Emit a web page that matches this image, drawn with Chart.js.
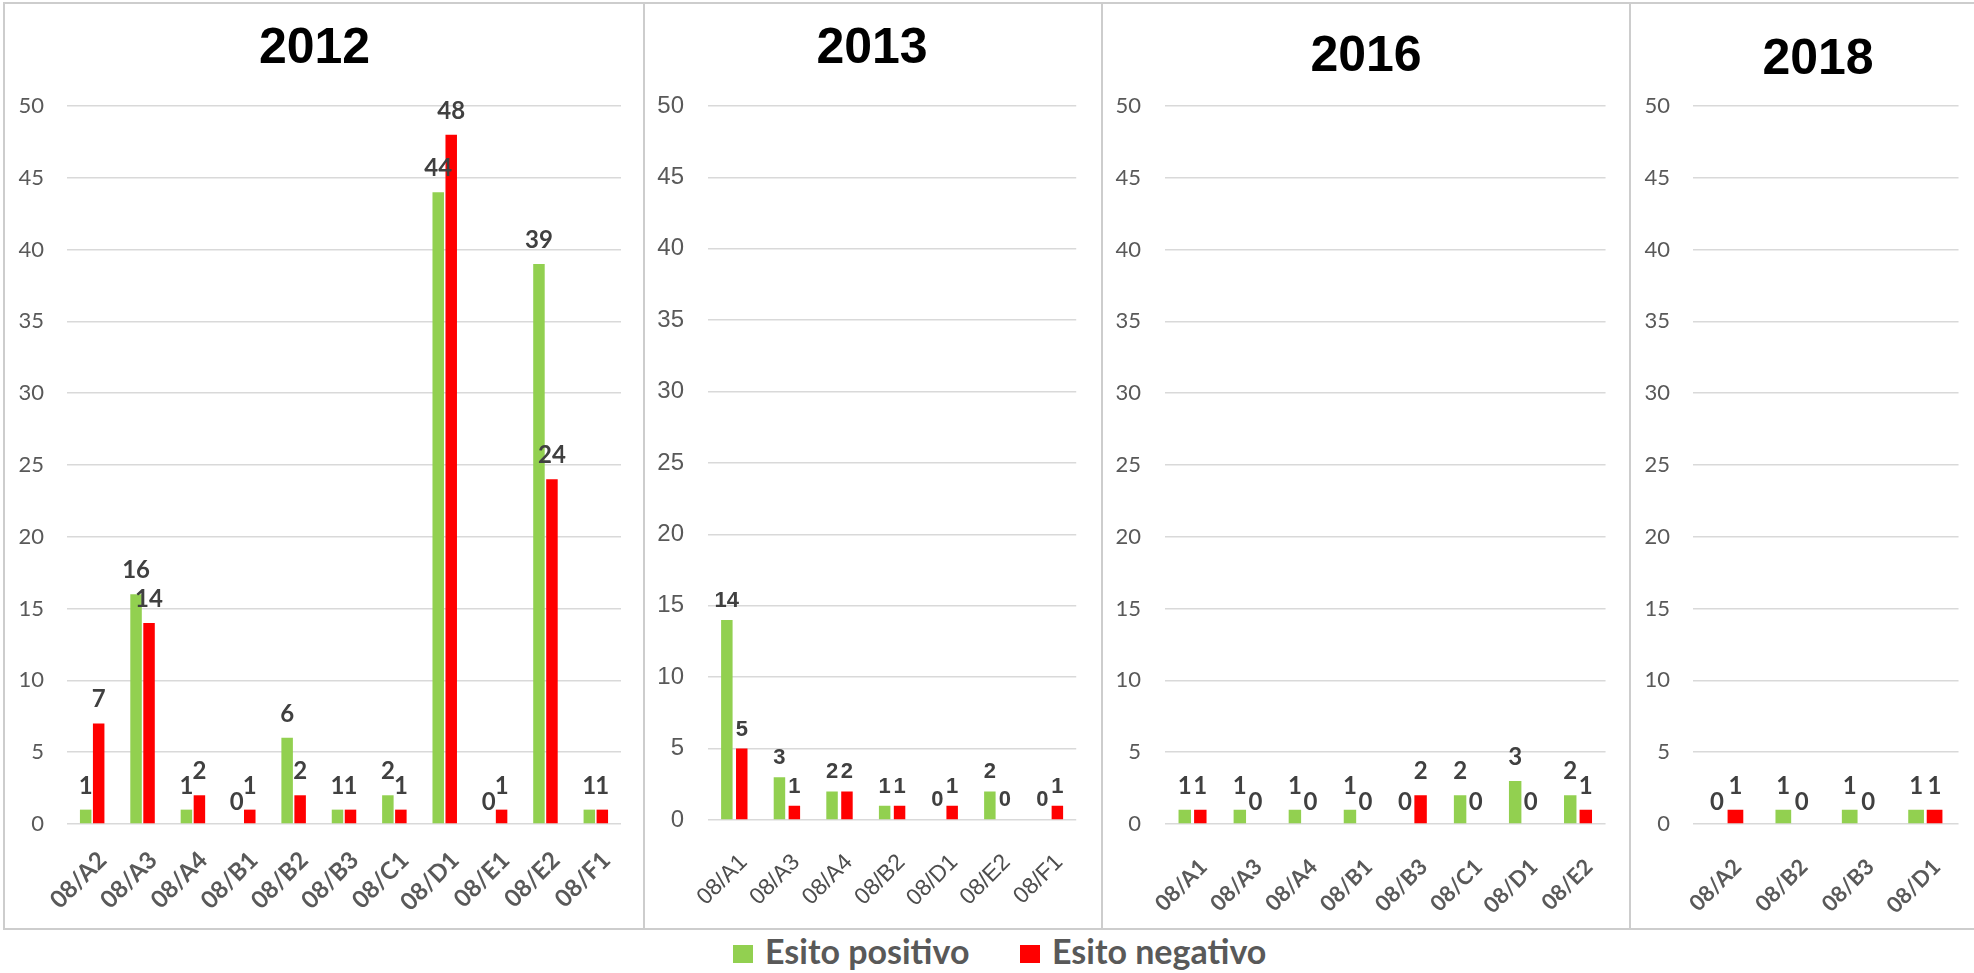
<!DOCTYPE html>
<html>
<head>
<meta charset="utf-8">
<script src="https://cdn.jsdelivr.net/npm/chart.js@4.4.1/dist/chart.umd.min.js"></script>
<style>
html,body{margin:0;padding:0;background:#fff;overflow:hidden;width:1974px;height:973px}
#root{position:relative;width:1974px;height:973px;overflow:hidden;background:#fff}
#root canvas{position:absolute}
.ln{position:absolute;background:#CDCDCD}
.sw{position:absolute;width:20px;height:18px}
.lt{position:absolute;font-family:Lato,'Open Sans',sans-serif;font-weight:bold;font-size:34px;line-height:34px;color:#595959;white-space:nowrap}
</style>
</head>
<body>
<div id="root">
  <div class="ln" style="left:3px;top:2px;width:1971px;height:2px"></div>
  <div class="ln" style="left:3px;top:928px;width:1971px;height:2px"></div>
  <div class="ln" style="left:3px;top:2px;width:2px;height:928px"></div>
  <div class="ln" style="left:643px;top:2px;width:2px;height:928px"></div>
  <div class="ln" style="left:1101px;top:2px;width:2px;height:928px"></div>
  <div class="ln" style="left:1629px;top:2px;width:2px;height:928px"></div>
  <canvas id="c2012"></canvas>
  <canvas id="c2013"></canvas>
  <canvas id="c2016"></canvas>
  <canvas id="c2018"></canvas>
  <div id="legend"></div>
</div>
<script>
// ---- data ----
const seriesNames = ['Esito positivo', 'Esito negativo'];
const seriesColors = ['#92D050', '#FF0000'];

const years = ['2012', '2013', '2016', '2018'];

const cats2012 = ['08/A2','08/A3','08/A4','08/B1','08/B2','08/B3','08/C1','08/D1','08/E1','08/E2','08/F1'];
const pos2012  = [1, 16, 1, 0, 6, 1, 2, 44, 0, 39, 1];
const neg2012  = [7, 14, 2, 1, 2, 1, 1, 48, 1, 24, 1];

const cats2013 = ['08/A1','08/A3','08/A4','08/B2','08/D1','08/E2','08/F1'];
const pos2013  = [14, 3, 2, 1, 0, 2, 0];
const neg2013  = [5, 1, 2, 1, 1, 0, 1];

const cats2016 = ['08/A1','08/A3','08/A4','08/B1','08/B3','08/C1','08/D1','08/E2'];
const pos2016  = [1, 1, 1, 1, 0, 2, 3, 2];
const neg2016  = [1, 0, 0, 0, 2, 0, 0, 1];

const cats2018 = ['08/A2','08/B2','08/B3','08/D1'];
const pos2018  = [0, 1, 1, 1];
const neg2018  = [1, 0, 0, 1];

const yMin = 0, yMax = 50, yStep = 5;

// ---- layout / style per panel ----
const CAL = 'Lato, "Open Sans", sans-serif';
const ARI = '"Liberation Sans", Arial, sans-serif';
const TITLE_FONT = 'bold 50px ' + ARI;
const panels = [
  { id:'c2012', title:years[0], cats:cats2012, pos:pos2012, neg:neg2012,
    left:5, width:638, pt:101, pr:22, yw:62, yPad:23, xh:105, xPad:22, xOff:10.5, tx:309.5, ty:44.5,
    cp:0.516, bp:0.885, tickFont:{family:CAL,size:22}, catFont:{family:CAL,size:24,weight:'bold'}, catColor:'#595959',
    lblFont:'bold 24px ' + CAL, gap:16, zeroGap:14 },
  { id:'c2013', title:years[1], cats:cats2013, pos:pos2013, neg:neg2013,
    left:646, width:454, pt:101, pr:22, yw:62, yPad:24, xh:109, xPad:29, xOff:9.5, tx:226, ty:44.5,
    cp:0.567, bp:0.77, tickFont:{family:ARI,size:24}, catFont:{family:ARI,size:23}, catColor:'#4d4d4d',
    lblFont:'bold 22px ' + ARI, gap:13, zeroGap:14 },
  { id:'c2016', title:years[2], cats:cats2016, pos:pos2016, neg:neg2016,
    left:1104, width:524, pt:101, pr:21, yw:61, yPad:24, xh:105, xPad:30, xOff:11, tx:262, ty:52,
    cp:0.565, bp:0.80, tickFont:{family:CAL,size:22}, catFont:{family:CAL,size:22,weight:'bold'}, catColor:'#595959',
    lblFont:'bold 24px ' + CAL, gap:16, zeroGap:14 },
  { id:'c2018', title:years[3], cats:cats2018, pos:pos2018, neg:neg2018,
    left:1632, width:342, pt:101, pr:0, yw:61, yPad:23, xh:105, xPad:30, xOff:11.5, tx:186, ty:55,
    cp:0.557, bp:0.85, tickFont:{family:CAL,size:22}, catFont:{family:CAL,size:22,weight:'bold'}, catColor:'#595959',
    lblFont:'bold 24px ' + CAL, gap:16, zeroGap:14 }
];
const canvasTop = 5, canvasHeight = 924;

// ---- value label plugin ----
const valueLabels = {
  id: 'valueLabels',
  afterDatasetsDraw(chart, args, opts) {
    const ctx = chart.ctx;
    ctx.save();
    ctx.font = opts.font;
    ctx.fillStyle = opts.color;
    ctx.textAlign = 'center';
    ctx.textBaseline = 'alphabetic';
    chart.data.datasets.forEach((ds, di) => {
      const meta = chart.getDatasetMeta(di);
      meta.data.forEach((el, i) => {
        const v = ds.data[i];
        const g = v > 0 ? opts.gap : opts.zeroGap;
        ctx.fillText(String(v), el.x, el.y - g);
      });
    });
    ctx.restore();
  }
};

// ---- panel title plugin ----
const panelTitle = {
  id: 'panelTitle',
  afterDraw(chart, args, o) {
    const ctx = chart.ctx;
    ctx.save();
    ctx.font = o.font;
    ctx.fillStyle = o.color;
    ctx.textAlign = 'center';
    ctx.textBaseline = 'middle';
    ctx.fillText(o.text, o.x, o.y);
    ctx.restore();
  }
};

panels.forEach(p => {
  const cv = document.getElementById(p.id);
  cv.width = p.width; cv.height = canvasHeight;
  cv.style.left = p.left + 'px'; cv.style.top = canvasTop + 'px';
  cv.style.width = p.width + 'px'; cv.style.height = canvasHeight + 'px';
  new Chart(cv.getContext('2d'), {
    type: 'bar',
    data: {
      labels: p.cats,
      datasets: [
        { label: seriesNames[0], data: p.pos, backgroundColor: seriesColors[0], borderWidth: 0,
          categoryPercentage: p.cp, barPercentage: p.bp },
        { label: seriesNames[1], data: p.neg, backgroundColor: seriesColors[1], borderWidth: 0,
          categoryPercentage: p.cp, barPercentage: p.bp }
      ]
    },
    plugins: [valueLabels, panelTitle],
    options: {
      responsive: false, animation: false, devicePixelRatio: 1,
      layout: { padding: { left: 0, right: p.pr, top: p.pt, bottom: 0 } },
      plugins: {
        legend: { display: false },
        tooltip: { enabled: false },
        title: { display: false },
        panelTitle: { text: p.title, font: TITLE_FONT, color: '#000000', x: p.tx, y: p.ty },
        valueLabels: { font: p.lblFont, color: '#404040', gap: p.gap, zeroGap: p.zeroGap }
      },
      scales: {
        x: {
          grid: { display: false, drawTicks: false },
          border: { display: false },
          ticks: { autoSkip: false, maxRotation: 45, minRotation: 45, padding: p.xPad,
                   labelOffset: p.xOff, color: p.catColor, font: p.catFont },
          afterFit(s) { s.height = p.xh; }
        },
        y: {
          min: yMin, max: yMax,
          ticks: { stepSize: yStep, padding: p.yPad, color: '#595959', font: p.tickFont },
          grid: { color: '#D9D9D9', lineWidth: 1.5, drawTicks: false },
          border: { display: false },
          afterFit(s) { s.width = p.yw; }
        }
      }
    }
  });
});

// ---- legend ----
const legendPos = [{ sw: 733, tx: 765 }, { sw: 1020, tx: 1052 }];
const lg = document.getElementById('legend');
seriesNames.forEach((name, i) => {
  const s = document.createElement('div');
  s.className = 'sw';
  s.style.left = legendPos[i].sw + 'px'; s.style.top = '945px';
  s.style.background = seriesColors[i];
  lg.appendChild(s);
  const t = document.createElement('div');
  t.className = 'lt';
  t.style.left = legendPos[i].tx + 'px'; t.style.top = '934px';
  t.textContent = name;
  lg.appendChild(t);
});
</script>
</body>
</html>
